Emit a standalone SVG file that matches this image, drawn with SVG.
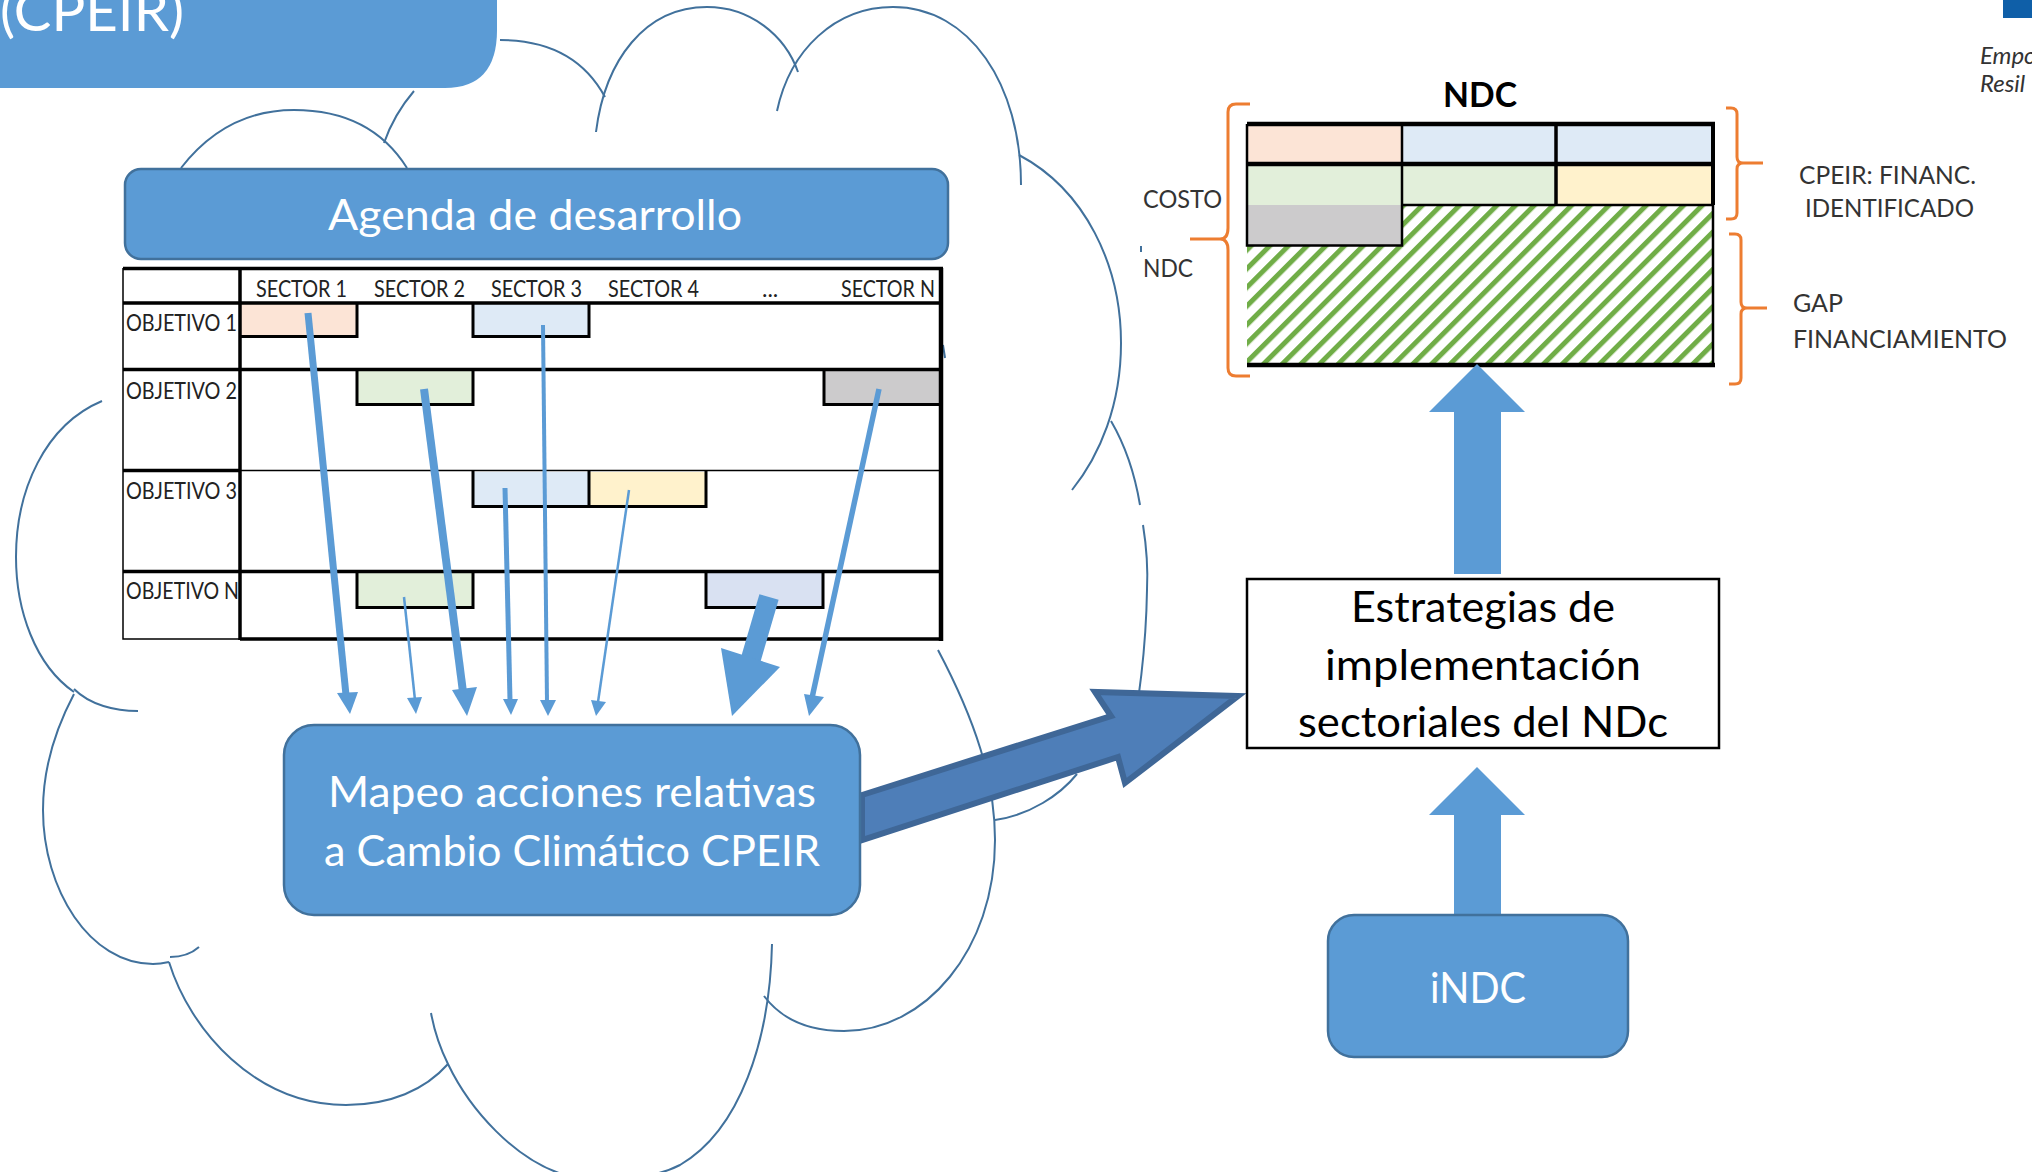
<svg xmlns="http://www.w3.org/2000/svg" width="2032" height="1172" viewBox="0 0 2032 1172">
<style>
text{font-family:Lato,"Open Sans","Liberation Sans",sans-serif}
.box{fill:#5b9bd5;stroke:#41719c;stroke-width:2.5}
.wt{fill:#fff;font-size:43px}
.cloud{fill:none;stroke:#41719c;stroke-width:2}
.bl{fill:#5b9bd5;stroke:none}
.ln{fill:none;stroke:#5b9bd5}
.tb{fill:#222;font-size:23px}
.lb{fill:#333;font-size:25px}
.or{fill:none;stroke:#ed7d31;stroke-width:3}
.k{stroke:#000;fill:none}
</style>
<defs>
<pattern id="h" width="13.2" height="13.2" patternUnits="userSpaceOnUse" patternTransform="rotate(45)">
<rect width="13.2" height="13.2" fill="#fff"/><rect width="5" height="13.2" fill="#70ad47"/>
</pattern>
</defs>
<rect width="2032" height="1172" fill="#fff"/>
<g id="cloud">
<path class="cloud" d="M181 168C212 128 250 110 294 110C338 110 380 125 407 168"/>
<path class="cloud" d="M384 143C392 120 402 105 414 91"/>
<path class="cloud" d="M500 40C550 40 585 60 605 97"/>
<path class="cloud" d="M596 132C605 60 645 7 707 7C750 7 785 35 798 72"/>
<path class="cloud" d="M777 111C790 50 835 7 893 7C970 7 1021 85 1021 185"/>
<path class="cloud" d="M1019 155C1085 190 1121 265 1121 343C1121 405 1100 455 1072 490"/>
<path class="cloud" d="M1111 421C1125 445 1135 475 1140 505"/>
<path class="cloud" d="M1143 525C1147 550 1148 570 1147 590C1146 650 1138 710 1127 762"/>
<path class="cloud" d="M1077 774C1060 795 1030 815 995 820"/>
<path class="cloud" d="M938 650C975 720 995 780 995 840C995 950 925 1031 844 1031C810 1031 782 1020 764 996"/>
<path class="cloud" d="M772 944C770 1040 740 1130 680 1165Q655 1178 627 1175"/>
<path class="cloud" d="M431 1013Q436 1040 448 1064C470 1110 515 1160 565 1175"/>
<path class="cloud" d="M448 1064C425 1090 390 1105 346 1105C255 1105 190 1030 169 962"/>
<path class="cloud" d="M199 947C190 955 180 957 170 957"/>
<path class="cloud" d="M74 694C55 730 43 770 43 810C43 890 90 964 153 964Q160 964 169 962"/>
<path class="cloud" d="M74 689C90 705 115 711 138 711"/>
<path class="cloud" d="M102 401C45 425 16 490 16 557C16 610 35 665 74 692"/>
<path class="cloud" d="M943 345L945 358"/>
<path class="cloud" d="M1141 246V252"/>
</g>
<g id="cpeir-title">
<path class="box" d="M-5 -5H497V30Q497 88 445 88H-5Z" style="stroke:none"/>
<text x="0" y="31" fill="#fff" font-size="56" textLength="184" lengthAdjust="spacingAndGlyphs">(CPEIR)</text>
</g>
<g id="logo">
<rect x="2003" y="0" width="29" height="18" fill="#0f5fa8"/>
<text x="1980" y="64" fill="#333" font-size="24" font-style="italic">Empo</text>
<text x="1980" y="92" fill="#333" font-size="24" font-style="italic">Resil</text>
</g>
<g id="agenda">
<rect class="box" x="125" y="169" width="823" height="90" rx="16"/>
<text class="wt" x="535" y="230" text-anchor="middle" textLength="414" lengthAdjust="spacingAndGlyphs">Agenda de desarrollo</text>
</g>
<g id="table">
<rect x="240" y="303" width="117" height="33" fill="#fce4d6"/>
<rect x="473" y="303" width="116" height="33" fill="#deeaf6"/>
<rect x="357" y="370" width="116" height="33" fill="#e2efda"/>
<rect x="824" y="370" width="115" height="33" fill="#cccbcc"/>
<rect x="473" y="472" width="116" height="33" fill="#deeaf6"/>
<rect x="589" y="472" width="117" height="33" fill="#fff2cc"/>
<rect x="357" y="573" width="116" height="33" fill="#e2efda"/>
<rect x="706" y="573" width="117" height="33" fill="#d9e1f2"/>
<path class="k" stroke-width="3.500" d="M123 268.500H943M240 268V640M123 303H941M123 369.500H941M123 470.500H240M123 571.500H941M240 639H943"/>
<path class="k" stroke-width="4.500" d="M941 268V641"/>
<path class="k" stroke-width="1.500" d="M123 268V639H240M240 470.500H939"/>
<path class="k" stroke-width="3" d="M240 336.500H357V303M473 303V336.500H589V303M357 370V404.500H473V370M824 370V404.500H939M473 471V506.500H706V471M589 471V506M357 572V607.500H473V572M706 572V607.500H823V572"/>
<text class="tb" x="256" y="297" textLength="91" lengthAdjust="spacingAndGlyphs">SECTOR 1</text>
<text class="tb" x="374" y="297" textLength="91" lengthAdjust="spacingAndGlyphs">SECTOR 2</text>
<text class="tb" x="491" y="297" textLength="91" lengthAdjust="spacingAndGlyphs">SECTOR 3</text>
<text class="tb" x="608" y="297" textLength="91" lengthAdjust="spacingAndGlyphs">SECTOR 4</text>
<text class="tb" x="762" y="297">...</text>
<text class="tb" x="841" y="297" textLength="94" lengthAdjust="spacingAndGlyphs">SECTOR N</text>
<text class="tb" x="126" y="331" textLength="111" lengthAdjust="spacingAndGlyphs">OBJETIVO 1</text>
<text class="tb" x="126" y="399" textLength="111" lengthAdjust="spacingAndGlyphs">OBJETIVO 2</text>
<text class="tb" x="126" y="499" textLength="111" lengthAdjust="spacingAndGlyphs">OBJETIVO 3</text>
<text class="tb" x="126" y="599" textLength="113" lengthAdjust="spacingAndGlyphs">OBJETIVO N</text>
</g>
<g id="ndc-chart">
<rect x="1247" y="205" width="466" height="158" fill="url(#h)"/>
<rect x="1247" y="125" width="155" height="38" fill="#fce4d6"/>
<rect x="1402" y="125" width="154" height="38" fill="#deeaf6"/>
<rect x="1556" y="125" width="157" height="38" fill="#deeaf6"/>
<rect x="1247" y="165" width="155" height="40" fill="#e2efda"/>
<rect x="1402" y="165" width="154" height="40" fill="#e2efda"/>
<rect x="1556" y="165" width="157" height="40" fill="#fff2cc"/>
<rect x="1247" y="205" width="155" height="40" fill="#cccbcc"/>
<path class="k" stroke-width="4.500" d="M1247 124H1715M1247 164H1713M1247 365H1715"/>
<path class="k" stroke-width="4" d="M1713 122V205"/>
<path class="k" stroke-width="2.500" d="M1402 124V245.500H1247V124M1402 205H1713M1713 205V365"/>
<path class="k" stroke-width="3.500" d="M1556 124V205"/>
<text x="1480" y="107" fill="#000" font-size="35" font-weight="700" text-anchor="middle" textLength="74" lengthAdjust="spacingAndGlyphs">NDC</text>
<text class="lb" x="1143" y="208" textLength="79" lengthAdjust="spacingAndGlyphs">COSTO</text>
<text class="lb" x="1143" y="277" textLength="50" lengthAdjust="spacingAndGlyphs">NDC</text>
<text class="lb" x="1799" y="184" textLength="177" lengthAdjust="spacingAndGlyphs">CPEIR: FINANC.</text>
<text class="lb" x="1805" y="217" textLength="169" lengthAdjust="spacingAndGlyphs">IDENTIFICADO</text>
<text class="lb" x="1793" y="312" textLength="50" lengthAdjust="spacingAndGlyphs">GAP</text>
<text class="lb" x="1793" y="348" textLength="214" lengthAdjust="spacingAndGlyphs">FINANCIAMIENTO</text>
<path class="or" d="M1250 104H1236Q1228 104 1228 112V228Q1228 239 1220 239H1190M1220 239Q1228 239 1228 250V368Q1228 376 1236 376H1250"/>
<path class="or" d="M1726 108H1731Q1737 108 1737 114V157Q1737 163 1743 163H1763M1743 163Q1737 163 1737 169V213Q1737 219 1731 219H1726"/>
<path class="or" d="M1729 234H1735Q1741 234 1741 240V302Q1741 308 1747 308H1767M1747 308Q1741 308 1741 314V378Q1741 384 1735 384H1729"/>
</g>
<g id="connectors">
<polygon points="862,795 1111,716 1095,692 1238,696 1125,783 1118,757 862,840" fill="#4e7eb8" stroke="#3f6797" stroke-width="6" stroke-miterlimit="12"/>
<polygon class="bl" points="1477,364 1525,412 1501,412 1501,574 1454,574 1454,412 1429,412"/>
<polygon class="bl" points="1477,767 1525,815 1501,815 1501,915 1454,915 1454,815 1429,815"/>
<path class="ln" stroke-width="7" d="M308 313L346 695"/><polygon class="bl" points="350,714 337,693 358,692"/>
<path class="ln" stroke-width="8" d="M424 389L463 692"/><polygon class="bl" points="467,716 452,690 477,687"/>
<path class="ln" stroke-width="4" d="M543 325L547 702"/><polygon class="bl" points="548,716 540,700 556,700"/>
<path class="ln" stroke-width="5" d="M505 488L510 700"/><polygon class="bl" points="511,715 503,699 518,699"/>
<path class="ln" stroke-width="2.500" d="M629 490L598 702"/><polygon class="bl" points="596,716 591,700 606,702"/>
<path class="ln" stroke-width="2.500" d="M404 597L415 700"/><polygon class="bl" points="416,714 407,698 422,697"/>
<path class="ln" stroke-width="20" d="M769 597L750 662"/><polygon class="bl" points="732,716 721,648 780,667"/>
<path class="ln" stroke-width="5.500" d="M879 389L812 698"/><polygon class="bl" points="809,716 804,694 824,697"/>
</g>
<g id="mapeo">
<rect class="box" x="284" y="725" width="576" height="190" rx="30"/>
<text class="wt" x="572" y="807" text-anchor="middle" textLength="488" lengthAdjust="spacingAndGlyphs">Mapeo acciones relativas</text>
<text class="wt" x="572" y="866" text-anchor="middle" textLength="496" lengthAdjust="spacingAndGlyphs">a Cambio Climático CPEIR</text>
</g>
<g id="estrategias">
<rect x="1247" y="579" width="472" height="169" fill="#fff" stroke="#000" stroke-width="2.500"/>
<text x="1483" y="622" fill="#000" font-size="43" text-anchor="middle" textLength="264" lengthAdjust="spacingAndGlyphs">Estrategias de</text>
<text x="1483" y="680" fill="#000" font-size="43" text-anchor="middle" textLength="316" lengthAdjust="spacingAndGlyphs">implementación</text>
<text x="1483" y="737" fill="#000" font-size="43" text-anchor="middle" textLength="370" lengthAdjust="spacingAndGlyphs">sectoriales del NDc</text>
</g>
<g id="indc">
<rect class="box" x="1328" y="915" width="300" height="142" rx="26"/>
<text class="wt" x="1478" y="1003" text-anchor="middle" textLength="96" lengthAdjust="spacingAndGlyphs">iNDC</text>
</g>
</svg>
